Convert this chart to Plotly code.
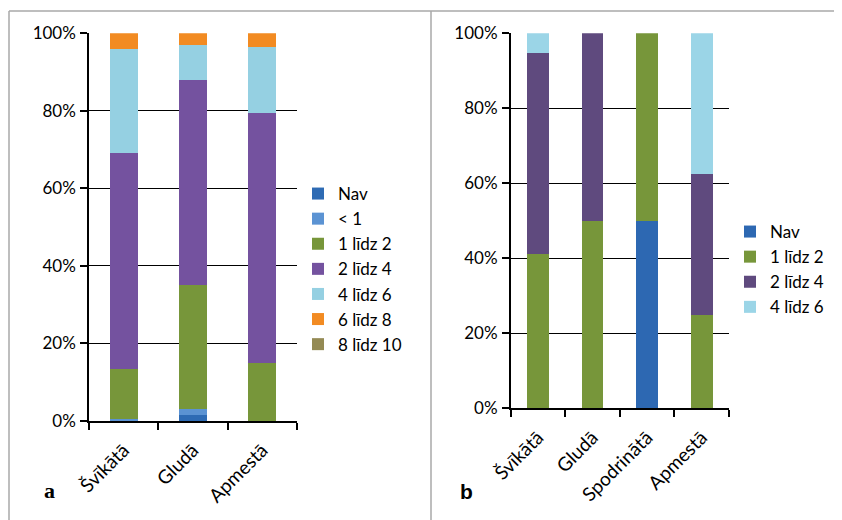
import plotly.graph_objects as go

# page body has an 8px margin, so the figure is 8px smaller and all positions are shifted
OFF = 8
W, H = 842 - OFF, 520 - OFF

# ---- data (percent) ----
cats_a = ["Švīkātā", "Gludā", "Apmestā"]
series_a = ["Nav", "< 1", "1 līdz 2", "2 līdz 4", "4 līdz 6", "6 līdz 8", "8 līdz 10"]
a_nav = [0, 1.5, 0]
a_lt1 = [0.5, 1.5, 0]
a_1_2 = [13, 32, 15]
a_2_4 = [55.5, 53, 64.5]
a_4_6 = [27, 9, 17]
a_6_8 = [4, 3, 3.5]
a_8_10 = [0, 0, 0]

cats_b = ["Švīkātā", "Gludā", "Spodrinātā", "Apmestā"]
series_b = ["Nav", "1 līdz 2", "2 līdz 4", "4 līdz 6"]
b_nav = [0, 0, 50, 0]
b_1_2 = [41.2, 50, 50, 25]
b_2_4 = [53.5, 50, 0, 37.5]
b_4_6 = [5.3, 0, 0, 37.5]

y_ticks = [0, 20, 40, 60, 80, 100]
y_tick_text = ["0%", "20%", "40%", "60%", "80%", "100%"]

colors_a = ["#2E6BB4", "#5B93D3", "#77963A", "#74529F", "#95D0E2", "#F28B22", "#948A54"]
colors_b = ["#2D68B2", "#77963A", "#5F4A7E", "#9BD5E7"]

FONT = "Lato, 'Open Sans', sans-serif"

def px(x):
    return (x - OFF) / W

def py(y):
    return 1 - (y - OFF) / H

fig = go.Figure()

for name, vals, col in zip(series_a, [a_nav, a_lt1, a_1_2, a_2_4, a_4_6, a_6_8, a_8_10], colors_a):
    fig.add_trace(go.Bar(x=cats_a, y=vals, name=name, marker=dict(color=col, line=dict(width=0)),
                         xaxis="x", yaxis="y", legend="legend", legendgroup="a_" + name))

for name, vals, col in zip(series_b, [b_nav, b_1_2, b_2_4, b_4_6], colors_b):
    fig.add_trace(go.Bar(x=cats_b, y=vals, name=name, marker=dict(color=col, line=dict(width=0)),
                         xaxis="x2", yaxis="y2", legend="legend2", legendgroup="b_" + name))

axis_common = dict(showline=True, linecolor="black", linewidth=1.5, ticks="outside",
                   tickcolor="black", ticklen=7, tickwidth=1.5, automargin=False)
yfont = dict(family=FONT, size=17, color="black")
xfont = dict(family=FONT, size=19, color="black")

fig.update_layout(
    width=W, height=H,
    template="none",
    paper_bgcolor="white", plot_bgcolor="white",
    margin=dict(l=0, r=0, t=0, b=0),
    barmode="stack", bargap=0.6,
    font=dict(family=FONT, size=17, color="black"),
    xaxis=dict(domain=[px(89), px(297)], anchor="y", tickangle=-45, tickson="boundaries",
               showgrid=False, tickfont=xfont, ticklabelstandoff=9, **axis_common),
    yaxis=dict(domain=[py(421), py(33.3)], anchor="x", range=[0, 100], tickvals=y_ticks,
               ticktext=y_tick_text, showgrid=True, gridcolor="black", gridwidth=1.3,
               zeroline=False, tickfont=yfont, ticklabelstandoff=1, **axis_common),
    xaxis2=dict(domain=[px(510.7), px(729)], anchor="y2", tickangle=-45, tickson="boundaries",
                showgrid=False, tickfont=xfont, ticklabelstandoff=9, **axis_common),
    yaxis2=dict(domain=[py(408.3), py(33.3)], anchor="x2", range=[0, 100], tickvals=y_ticks,
                ticktext=y_tick_text, showgrid=True, gridcolor="black", gridwidth=1.3,
                zeroline=False, tickfont=yfont, ticklabelstandoff=1, **axis_common),
    legend=dict(x=px(298), y=py(176), xanchor="left", yanchor="top", traceorder="normal",
                tracegroupgap=1.7,
                font=dict(family=FONT, size=17, color="black"), bgcolor="rgba(0,0,0,0)",
                itemclick=False),
    legend2=dict(x=px(730), y=py(214), xanchor="left", yanchor="top", traceorder="normal",
                 tracegroupgap=2.8,
                 font=dict(family=FONT, size=17, color="black"), bgcolor="rgba(0,0,0,0)",
                 itemclick=False),
    showlegend=True,
)

# panel borders
border = dict(color="#A8A8A8", width=1.5)
fig.add_shape(type="line", xref="paper", yref="paper", x0=px(9), x1=px(841), y0=py(11), y1=py(11), line=border)
for xb in [9, 431, 841]:
    fig.add_shape(type="line", xref="paper", yref="paper", x0=px(xb), x1=px(xb), y0=py(11), y1=0, line=border)

# panel letters
fig.add_annotation(text="<b>a</b>", xref="paper", yref="paper", x=px(42), y=py(505),
                   showarrow=False, font=dict(family="Liberation Serif", size=22, color="black"))
fig.add_annotation(text="<b>b</b>", xref="paper", yref="paper", x=px(466), y=py(505),
                   showarrow=False, font=dict(family="Liberation Sans", size=21, color="black"))

fig.write_html("out.html")
